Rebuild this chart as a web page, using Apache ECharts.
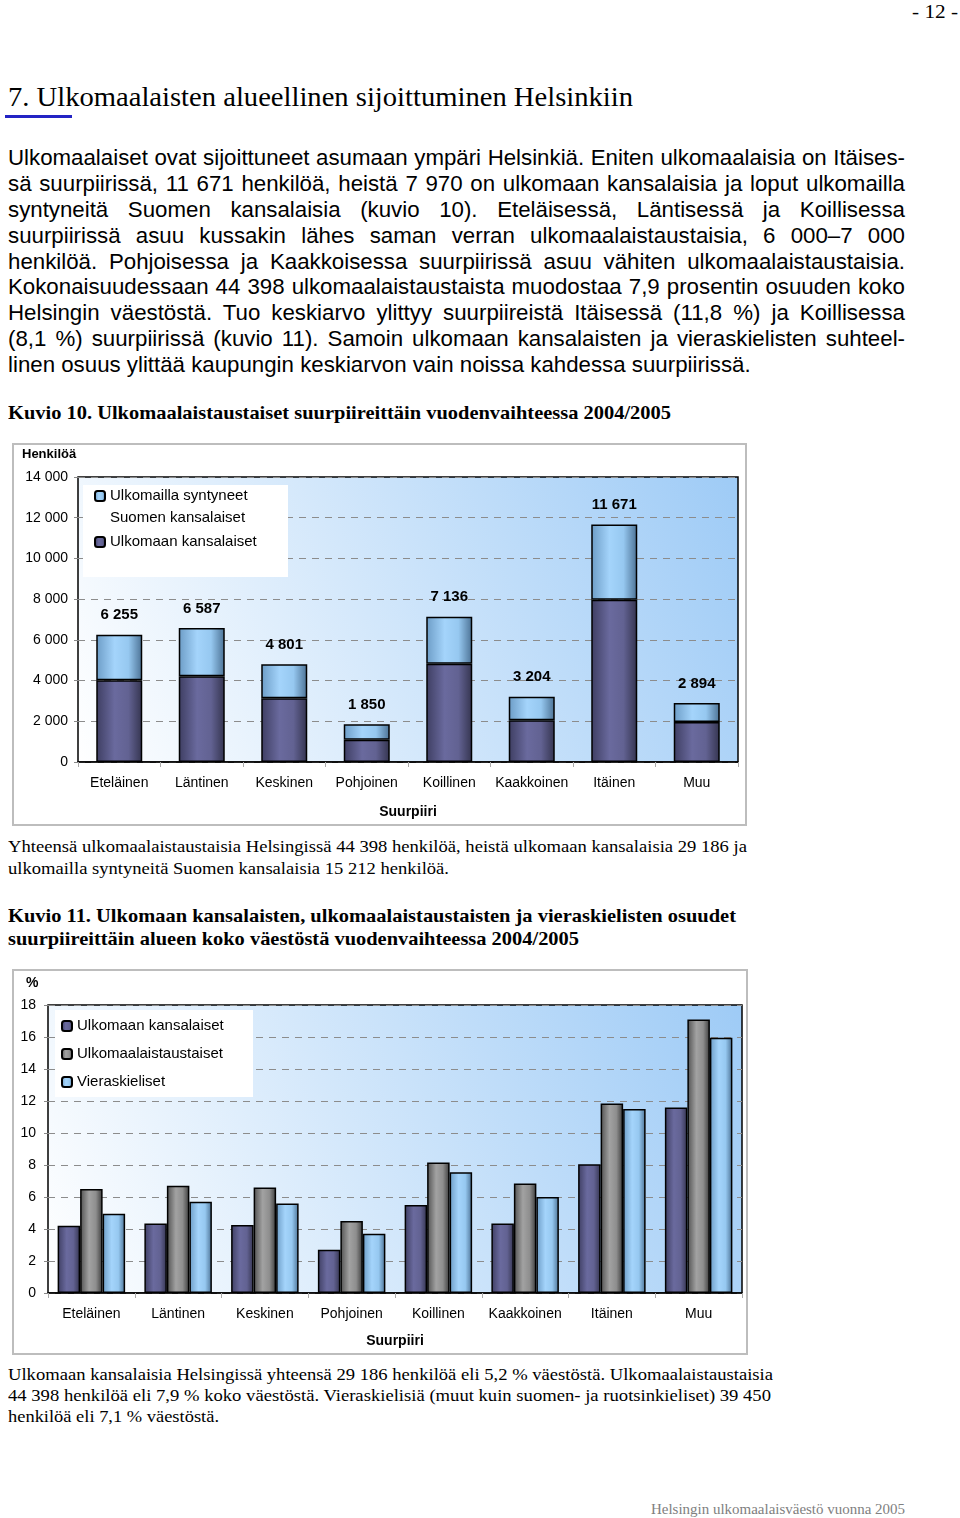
<!DOCTYPE html>
<html>
<head>
<meta charset="utf-8">
<script src="https://cdn.jsdelivr.net/npm/echarts@6.0.0/dist/echarts.min.js"></script>
<style>
  body { margin: 0; width: 960px; height: 1518px; background: #fff; position: relative; overflow: hidden; }
  .t { position: absolute; white-space: nowrap; transform-origin: left center; color: #000; }
  .serif { font-family: "Liberation Serif", "Times New Roman", serif; }
  .sans { font-family: "Liberation Sans", Arial, sans-serif; font-size: 21px; line-height: 26px; }
  .j { text-align: justify; text-align-last: justify; width: 897px; }
  .chart { position: absolute; border: 2px solid #bdbdbd; }
</style>
</head>
<body>

<div class="t serif" style="left:912px;top:1px;font-size:19px;line-height:22px" data-w="46">- 12 -</div>
<div class="t serif" style="left:8px;top:82px;font-size:28px;line-height:30px" data-w="625">7. Ulkomaalaisten alueellinen sijoittuminen Helsinkiin</div>
<div style="position:absolute;left:5px;top:115px;width:67px;height:3px;background:#2323c4"></div>

<div class="t sans j" style="left:8px;top:145px">Ulkomaalaiset ovat sijoittuneet asumaan ympäri Helsinkiä. Eniten ulkomaalaisia on Itäises-</div>
<div class="t sans j" style="left:8px;top:171px">sä suurpiirissä, 11 671 henkilöä, heistä 7 970 on ulkomaan kansalaisia ja loput ulkomailla</div>
<div class="t sans j" style="left:8px;top:197px">syntyneitä Suomen kansalaisia (kuvio 10). Eteläisessä, Läntisessä ja Koillisessa</div>
<div class="t sans j" style="left:8px;top:223px">suurpiirissä asuu kussakin lähes saman verran ulkomaalaistaustaisia, 6 000–7 000</div>
<div class="t sans j" style="left:8px;top:249px">henkilöä. Pohjoisessa ja Kaakkoisessa suurpiirissä asuu vähiten ulkomaalaistaustaisia.</div>
<div class="t sans j" style="left:8px;top:274px">Kokonaisuudessaan 44 398 ulkomaalaistaustaista muodostaa 7,9 prosentin osuuden koko</div>
<div class="t sans j" style="left:8px;top:300px">Helsingin väestöstä. Tuo keskiarvo ylittyy suurpiireistä Itäisessä (11,8 %) ja Koillisessa</div>
<div class="t sans j" style="left:8px;top:326px">(8,1 %) suurpiirissä (kuvio 11). Samoin ulkomaan kansalaisten ja vieraskielisten suhteel-</div>
<div id="lastLine" class="t sans" style="left:8px;top:352px">linen osuus ylittää kaupungin keskiarvon vain noissa kahdessa suurpiirissä.</div>

<div class="t serif" style="left:8px;top:402px;font-size:19px;line-height:22px;font-weight:bold" data-w="663">Kuvio 10. Ulkomaalaistaustaiset suurpiireittäin vuodenvaihteessa 2004/2005</div>

<div id="chart1" class="chart" style="left:12px;top:443px;width:731px;height:379px"></div>

<div class="t serif" style="left:8px;top:836px;font-size:17.5px;line-height:20px" data-w="739">Yhteensä ulkomaalaistaustaisia Helsingissä 44 398 henkilöä, heistä ulkomaan kansalaisia 29 186 ja</div>
<div class="t serif" style="left:8px;top:858px;font-size:17.5px;line-height:20px" data-w="441">ulkomailla syntyneitä Suomen kansalaisia 15 212 henkilöä.</div>

<div class="t serif" style="left:8px;top:905px;font-size:19px;line-height:22px;font-weight:bold" data-w="728">Kuvio 11. Ulkomaan kansalaisten, ulkomaalaistaustaisten ja vieraskielisten osuudet</div>
<div class="t serif" style="left:8px;top:928px;font-size:19px;line-height:22px;font-weight:bold" data-w="571">suurpiireittäin alueen koko väestöstä vuodenvaihteessa 2004/2005</div>

<div id="chart2" class="chart" style="left:12px;top:969px;width:732px;height:382px"></div>

<div class="t serif" style="left:8px;top:1364px;font-size:17.5px;line-height:20px" data-w="765">Ulkomaan kansalaisia Helsingissä yhteensä 29 186 henkilöä eli 5,2 % väestöstä. Ulkomaalaistaustaisia</div>
<div class="t serif" style="left:8px;top:1385px;font-size:17.5px;line-height:20px" data-w="763">44 398 henkilöä eli 7,9 % koko väestöstä. Vieraskielisiä (muut kuin suomen- ja ruotsinkieliset) 39 450</div>
<div class="t serif" style="left:8px;top:1406px;font-size:17.5px;line-height:20px" data-w="211">henkilöä eli 7,1 % väestöstä.</div>

<div class="t serif" style="left:651px;top:1500px;font-size:15px;line-height:18px;color:#808080" data-w="254">Helsingin ulkomaalaisväestö vuonna 2005</div>

<script>
// kuvio 10
var suurpiirit = ['Eteläinen', 'Läntinen', 'Keskinen', 'Pohjoinen', 'Koillinen', 'Kaakkoinen', 'Itäinen', 'Muu'];
var ulkomaanKansalaiset = [4020, 4210, 3130, 1090, 4830, 2050, 7970, 1960];
var suomenKansalaiset = [2235, 2377, 1671, 760, 2306, 1154, 3701, 934];
var henkiloTicks = ['0', '2 000', '4 000', '6 000', '8 000', '10 000', '12 000', '14 000'];

// kuvio 11 (%)
var osuusKansalaiset = [4.2, 4.35, 4.25, 2.7, 5.5, 4.35, 8.05, 11.6];
var osuusTaustaiset = [6.5, 6.7, 6.6, 4.5, 8.15, 6.85, 11.85, 17.1];
var osuusVieraskieliset = [4.95, 5.7, 5.6, 3.7, 7.55, 6.0, 11.5, 15.95];
var prosenttiTicks = ['0', '2', '4', '6', '8', '10', '12', '14', '16', '18'];

// leipätekstin koko viimeisen rivin leveydestä (743 px)
var last = document.getElementById('lastLine');
var bodySize = 21 * 743 / last.getBoundingClientRect().width;
document.querySelectorAll('.sans').forEach(function (el) { el.style.fontSize = bodySize + 'px'; });

// muiden tekstirivien leveydet kohdalleen
document.querySelectorAll('[data-w]').forEach(function (el) {
  var w = el.getBoundingClientRect().width;
  el.style.transform = 'scaleX(' + (+el.dataset.w / w) + ')';
});

var FONT = '"Liberation Sans", Arial, sans-serif';

function barGrad(stops) {
  return new echarts.graphic.LinearGradient(0, 0, 1, 0, [
    { offset: 0, color: stops[0] },
    { offset: 0.4, color: stops[1] },
    { offset: 0.7, color: stops[2] },
    { offset: 1, color: stops[3] }
  ]);
}
var darkGrad = barGrad(['#3e3e62', '#6a6a9e', '#626292', '#34344f']);
var lightGrad = barGrad(['#6c9cc6', '#a4d4fb', '#96c8f0', '#4b7194']);
var greyGrad = barGrad(['#505050', '#a2a2a2', '#8e8e8e', '#3a3a3a']);

function plotBg() {
  return new echarts.graphic.LinearGradient(0, 1, 1, 0, [
    { offset: 0, color: '#ffffff' },
    { offset: 1, color: '#9ecbf6' }
  ]);
}

function baseAxes(ticks, max, interval, nameGap) {
  return {
    xAxis: {
      type: 'category',
      data: suurpiirit,
      name: 'Suurpiiri',
      nameLocation: 'middle',
      nameGap: nameGap,
      nameTextStyle: { fontFamily: FONT, fontSize: 14, fontWeight: 'bold', color: '#000' },
      axisLine: { lineStyle: { color: '#000', width: 1.5 } },
      axisTick: { show: true, length: 5, lineStyle: { color: '#aaa' } },
      axisLabel: { fontFamily: FONT, fontSize: 14, color: '#000', margin: 14, interval: 0 }
    },
    yAxis: {
      type: 'value',
      min: 0,
      max: max,
      interval: interval,
      axisLine: { show: false },
      axisTick: { show: true, length: 4, lineStyle: { color: '#888' } },
      axisLabel: {
        fontFamily: FONT, fontSize: 14, color: '#000', margin: 10,
        formatter: function (v) { return ticks[Math.round(v / interval)]; }
      },
      splitLine: { lineStyle: { color: '#8c8c8c', type: [7, 6], width: 1 } }
    }
  };
}

// ---- Kuvio 10
var chart1 = echarts.init(document.getElementById('chart1'));
var axes1 = baseAxes(henkiloTicks, 14000, 2000, 43);
chart1.setOption({
  animation: false,
  title: { text: 'Henkilöä', left: 8, top: 3, padding: 0,
    textStyle: { fontFamily: FONT, fontSize: 13, fontWeight: 'bold', color: '#000' } },
  grid: { left: 64, top: 32, right: 7, bottom: 58, show: true,
    backgroundColor: plotBg(), borderColor: '#000', borderWidth: 1.5 },
  graphic: [{ type: 'rect', z: 3, shape: { x: 69, y: 40, width: 205, height: 92 }, style: { fill: '#fff' } }],
  legend: {
    orient: 'vertical', left: 80, top: 18, padding: 0, itemGap: 2,
    itemWidth: 10, itemHeight: 10,
    textStyle: { fontFamily: FONT, fontSize: 15, color: '#000', lineHeight: 22 },
    data: ['Ulkomailla syntyneet Suomen kansalaiset', 'Ulkomaan kansalaiset'],
    formatter: function (n) {
      // tyhjä rivi alkuun, jotta ikoni osuu ensimmäiselle tekstiriville
      return n === 'Ulkomailla syntyneet Suomen kansalaiset' ? '\nUlkomailla syntyneet\nSuomen kansalaiset' : n;
    }
  },
  xAxis: axes1.xAxis,
  yAxis: axes1.yAxis,
  series: [
    {
      name: 'Ulkomaan kansalaiset', type: 'bar', stack: 'yht', barWidth: 46,
      data: ulkomaanKansalaiset,
      itemStyle: { color: darkGrad, borderColor: '#000', borderWidth: 1.5 }
    },
    {
      name: 'Ulkomailla syntyneet Suomen kansalaiset', type: 'bar', stack: 'yht', barWidth: 46,
      data: suomenKansalaiset,
      itemStyle: { color: lightGrad, borderColor: '#000', borderWidth: 1.5 },
      label: {
        show: true, position: 'top', distance: 12,
        fontFamily: FONT, fontSize: 15, fontWeight: 'bold', color: '#000',
        formatter: function (p) {
          var s = ulkomaanKansalaiset[p.dataIndex] + suomenKansalaiset[p.dataIndex];
          return String(s).replace(/\B(?=(\d{3})+(?!\d))/g, ' ');
        }
      }
    }
  ]
});

// ---- Kuvio 11
var chart2 = echarts.init(document.getElementById('chart2'));
var axes2 = baseAxes(prosenttiTicks, 18, 2, 41);
axes2.yAxis.axisLabel.margin = 12;
chart2.setOption({
  animation: false,
  title: { text: '%', left: 12, top: 5, padding: 0,
    textStyle: { fontFamily: FONT, fontSize: 14, fontWeight: 'bold', color: '#000' } },
  grid: { left: 34, top: 34, right: 4, bottom: 57, show: true,
    backgroundColor: plotBg(), borderColor: '#000', borderWidth: 1.5 },
  graphic: [{ type: 'rect', z: 3, shape: { x: 41, y: 39, width: 198, height: 87 }, style: { fill: '#fff' } }],
  legend: {
    orient: 'vertical', left: 47, top: 44, padding: 0, itemGap: 6,
    itemWidth: 10, itemHeight: 10,
    textStyle: { fontFamily: FONT, fontSize: 15, color: '#000', lineHeight: 22 },
    data: ['Ulkomaan kansalaiset', 'Ulkomaalaistaustaiset', 'Vieraskieliset']
  },
  xAxis: axes2.xAxis,
  yAxis: axes2.yAxis,
  series: [
    { name: 'Ulkomaan kansalaiset', type: 'bar', barWidth: 22.5, barGap: '0%', data: osuusKansalaiset,
      itemStyle: { color: darkGrad, borderColor: '#000', borderWidth: 1.5 } },
    { name: 'Ulkomaalaistaustaiset', type: 'bar', barWidth: 22.5, barGap: '0%', data: osuusTaustaiset,
      itemStyle: { color: greyGrad, borderColor: '#000', borderWidth: 1.5 } },
    { name: 'Vieraskieliset', type: 'bar', barWidth: 22.5, barGap: '0%', data: osuusVieraskieliset,
      itemStyle: { color: lightGrad, borderColor: '#000', borderWidth: 1.5 } }
  ]
});
</script>
</body>
</html>
